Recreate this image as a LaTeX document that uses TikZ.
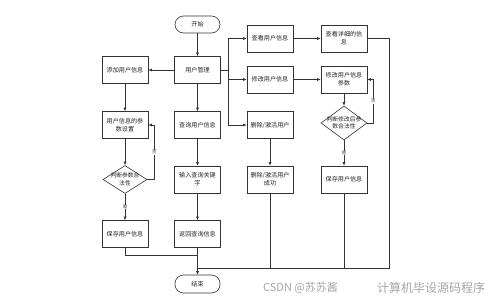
\documentclass[tikz,border=0pt]{standalone}
\usepackage{fontspec}
\newfontfamily\cjk{Noto Sans CJK SC}
\usetikzlibrary{shapes.geometric,arrows.meta}
\definecolor{lc}{HTML}{333333}
\begin{document}
\begin{tikzpicture}[x=1pt,y=-1pt,
 box/.style={draw=lc,line width=0.6pt,minimum width=46pt,minimum height=27pt,inner sep=1pt,align=center,font=\cjk\fontsize{6.1}{8}\selectfont,text=black!85},
 term/.style={box,rounded corners=8.5pt,minimum height=17pt,minimum width=45pt},
 dia/.style={draw=lc,line width=0.6pt,diamond,minimum width=46pt,minimum height=34pt,inner sep=0pt},
 txt/.style={align=center,font=\cjk\fontsize{5.8}{7.5}\selectfont,text=black!85,inner sep=0pt},
 arr/.style={draw=lc,line width=0.6pt,-{Latex[length=3.5pt,width=3pt]}},
 ln/.style={draw=lc,line width=0.6pt},
 lab/.style={font=\cjk\fontsize{4.5}{5}\selectfont,fill=white,inner sep=0.5pt,text=black!80},
 wm/.style={font=\cjk\fontsize{11}{12}\selectfont,text=black!35,anchor=west,inner sep=0pt}
]
\useasboundingbox[fill=white] (0,0) rectangle (500,300);
% nodes
\node[term] (start) at (197.5,24.5) {开始};
\node[box] (mgmt) at (197.5,70) {用户管理};
\node[box] (add) at (125,70) {添加用户信息};
\node[box] (param) at (125,125) {用户信息的参\\数设置};
\node[box] (query) at (197.5,125) {查询用户信息};
\node[box] (view) at (270,38.5) {查看用户信息};
\node[box] (mod) at (270,79.5) {修改用户信息};
\node[box] (del) at (270,125) {删除/激活用户};
\node[box] (detail) at (344,38.5) {查看详细的信\\息};
\node[box] (modp) at (344,79.5) {修改用户信息\\参数};
\node[dia] (d2) at (344,123) {};
\node[txt] (d2t) at (d2) {判断修改后参\\数合法性};
\node[dia,minimum width=44pt,minimum height=28pt] (d1) at (125,179.5) {};
\node[txt] (d1t) at (d1) {判断参数合\\法性};
\node[box] (saveL) at (125,234) {保存用户信息};
\node[box] (input) at (197.5,179.5) {输入查询关键\\字};
\node[box] (ret) at (197.5,234) {返回查询信息};
\node[box] (dels) at (270,179.5) {删除/激活用户\\成功};
\node[box] (saveR) at (344,179.5) {保存用户信息};
\node[term,minimum height=18pt] (end) at (197.5,284) {结束};
% helper coordinates
\coordinate (bx) at (228,70);
\coordinate (m) at (197.5,268);
\coordinate (jL) at (197.5,255);
\coordinate (rc) at (389,268);
% connectors
\draw[arr] (start) -- (mgmt);
\draw[arr] (mgmt) -- (add);
\draw[arr] (mgmt) -- (query);
\draw[arr] (query) -- (input);
\draw[arr] (input) -- (ret);
\draw[arr] (ret) -- (end);
\draw[arr] (add) -- (param);
\draw[arr] (param) -- (d1);
\draw[arr] (d1) -- node[lab]{是} (saveL);
\draw[arr] (d1.east) -- ++(7,0) |- node[lab,pos=0.25]{否} (param.east);
\draw[ln] (mgmt.east) -- (bx);
\draw[arr] (bx) |- (view);
\draw[arr] (bx) |- (mod);
\draw[arr] (bx) |- (del);
\draw[arr] (view) -- (detail);
\draw[arr] (mod) -- (modp);
\draw[arr] (del) -- (dels);
\draw[arr] (modp) -- (d2);
\draw[arr] (d2) -- node[lab]{是} (saveR);
\draw[arr] (d2.east) -- ++(6,0) |- node[lab,pos=0.25]{否} (modp.east);
\draw[ln] (saveL.south) |- (jL);
\draw[ln] (detail.east) -| (rc) -- (m);
\draw[ln] (dels.south) -- (dels.south |- m);
\draw[ln] (saveR.south) -- (saveR.south |- m);
% watermark
\node[wm] (wm1) at (263,288) {CSDN @苏苏酱};
\node[wm,font=\cjk\fontsize{12}{13}\selectfont] (wm2) at (377,288) {计算机毕设源码程序};
\end{tikzpicture}
\end{document}
